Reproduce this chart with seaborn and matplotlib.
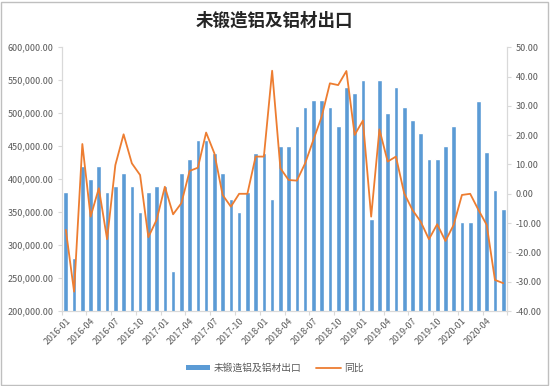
import numpy as np
import pandas as pd
import seaborn as sns
import matplotlib.pyplot as plt
from matplotlib.lines import Line2D
from matplotlib.patches import Patch, Rectangle
from matplotlib.ticker import FuncFormatter, FixedLocator

# 月份
months = pd.period_range('2016-01', '2020-06', freq='M').strftime('%Y-%m').tolist()

# 未锻造铝及铝材出口 (吨)
export = [380000, 280000, 420000, 400000, 420000, 380000, 390000, 410000, 390000, 350000, 380000, 390000,
          390000, 260000, 410000, 430000, 460000, 460000, 440000, 410000, 370000, 350000, 380000, 440000,
          440000, 370000, 450000, 450000, 480000, 510000, 520000, 520000, 510000, 480000, 540000, 530000,
          550000, 340000, 550000, 500000, 540000, 510000, 490000, 470000, 430000, 430000, 450000, 480000,
          335000, 335000, 518000, 441000, 383000, 354000]

# 同比 (%)
yoy = [-12.3, -33.4, 17.0, -7.8, 1.9, -15.5, 9.8, 20.3, 10.4, 6.4, -14.8, -8.9,
       2.4, -7.0, -3.2, 7.8, 8.9, 20.9, 13.8, -0.4, -4.4, 0.0, 0.0, 12.7,
       12.7, 42.0, 8.7, 4.7, 4.5, 10.4, 18.4, 26.3, 37.7, 37.1, 41.9, 20.1,
       25.0, -7.8, 22.0, 11.0, 12.7, 0.2, -5.5, -9.5, -15.5, -10.4, -16.1, -10.6,
       -0.4, 0.0, -5.5, -10.6, -29.4, -30.5]

bar_label = '未锻造铝及铝材出口'
line_label = '同比'
title = '未锻造铝及铝材出口'

sns.set_theme(style='white')
plt.rcParams['font.family'] = ['Noto Sans CJK SC', 'DejaVu Sans']

blue = '#5B9BD5'
orange = '#ED7D31'
txt = '#595959'
axc = '#D9D9D9'

fig = plt.figure(figsize=(5.5, 3.86), dpi=100)
ax = fig.add_axes([0.1122, 0.1943, 0.8102, 0.6832])

df = pd.DataFrame({'month': months, 'export': export, 'yoy': yoy})
sns.barplot(data=df, x='month', y='export', color=blue, width=0.57, ax=ax, saturation=1)

ax2 = ax.twinx()
sns.lineplot(x=np.arange(len(months)), y=df['yoy'], color=orange, linewidth=1.3, ax=ax2)

ax.set_xlim(-0.5, len(months) - 0.5)
ax.set_ylim(200000, 600000)
ax.set_yticks(np.arange(200000, 600001, 50000))
ax.yaxis.set_major_formatter(FuncFormatter(lambda v, p: f'{v:,.2f}'))
ax2.set_ylim(-40, 50)
ax2.set_yticks(np.arange(-40, 51, 10))
ax2.yaxis.set_major_formatter(FuncFormatter(lambda v, p: f'{v:.2f}'))

idx = list(range(0, len(months), 3))
ax.set_xticks(idx)
ax.set_xticklabels([months[i] for i in idx], rotation=45, ha='right', rotation_mode='anchor')
ax.xaxis.set_minor_locator(FixedLocator([i - 0.5 for i in idx] + [len(months) - 0.5]))
ax.tick_params(axis='x', which='major', length=0, pad=4, labelsize=6.5, labelcolor=txt)
ax.tick_params(axis='x', which='minor', length=3, width=0.8, color=axc, bottom=True)
ax.tick_params(axis='y', length=3, width=0.8, color=axc, labelsize=6.5, labelcolor=txt, pad=3, left=True)
ax2.tick_params(axis='y', length=3, width=0.8, color=axc, labelsize=6.5, labelcolor=txt, pad=3, right=True)

ax.set_xlabel('')
ax.set_ylabel('')
ax2.set_xlabel('')
ax2.set_ylabel('')

for a in (ax, ax2):
    a.spines['top'].set_visible(False)
    for s in ('left', 'right', 'bottom'):
        a.spines[s].set_color(axc)
        a.spines[s].set_linewidth(0.8)
    a.grid(False)

fig.text(0.498, 0.946, title, ha='center', va='center', fontsize=12.6, fontweight='bold', color='#262626')

handles = [Patch(facecolor=blue, edgecolor='none'), Line2D([0], [0], color=orange, lw=1.3)]
fig.legend(handles, [bar_label, line_label], loc='center', bbox_to_anchor=(0.5, 0.047), ncol=2,
           frameon=False, fontsize=7, handlelength=2.5, handleheight=0.5, columnspacing=1.5,
           labelcolor=txt, handletextpad=0.4)

fig.add_artist(Rectangle((0.002, 0.003), 0.995, 0.993, transform=fig.transFigure,
                         fill=False, edgecolor='#BFBFBF', linewidth=1))

fig.savefig('out.png', dpi=100)
